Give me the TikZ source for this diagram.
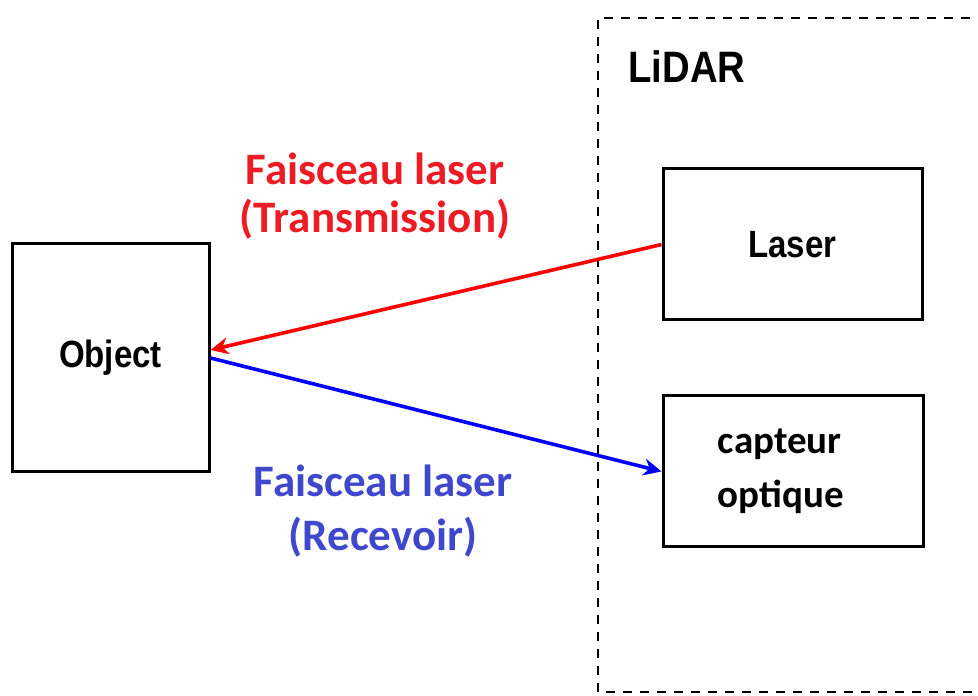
\documentclass[tikz,border=0pt]{standalone}
\usepackage{fontspec}
\setmainfont[FakeStretch=0.87]{Liberation Sans}
\newfontfamily\calibri{Carlito}
\usepackage{tikz}
\usetikzlibrary{arrows.meta,positioning,calc}
\usepackage{xcolor}
\definecolor{txred}{RGB}{237,28,36}
\definecolor{rxblue}{RGB}{63,72,204}

\begin{document}
\begin{tikzpicture}[x=0.5pt, y=0.5pt,
    block/.style={rectangle, draw=black, line width=1.5pt, fill=white},
    arr/.style={-{Stealth[length=9pt, width=8.5pt]}, line width=1.8pt},
    beamlabel/.style={font=\calibri\bfseries\fontsize{22.5}{24}\selectfont, align=center}]

    \useasboundingbox (0,0) rectangle (978,695);

    % LiDAR housing
    \draw[line width=1.3pt, dash pattern=on 4.5pt off 4pt] (598,3) rectangle (995,677);
    \node[font=\bfseries\fontsize{22}{26}\selectfont] (lidar) at (687,628) {LiDAR};

    % Object
    \node[block, minimum width=98.5pt, minimum height=114pt,
          font=\bfseries\fontsize{19}{22}\selectfont] (obj) at (110.5,337) {Object};

    % Laser and sensor
    \node[block, minimum width=129.5pt, minimum height=75.5pt,
          font=\bfseries\fontsize{19}{22}\selectfont] (laser) at (792.5,450.5) {Laser};
    \node[block, minimum width=130pt, minimum height=75.5pt,
          font=\calibri\bfseries\fontsize{19.5}{27}\selectfont, align=left] (capteur) at (793,223.5)
          {\hspace*{-12pt}capteur\\\hspace*{-12pt}optique};

    % Beams
    \draw[arr, red] (laser.west) -- ([yshift=4pt]obj.east);
    \draw[arr, blue] (obj.east) -- (capteur.west);

    % Beam labels
    \node[beamlabel, text=txred] (txlabel) at (375,499) {Faisceau laser\\(Transmission)};
    \node[beamlabel, text=rxblue, font=\calibri\bfseries\fontsize{22.5}{27}\selectfont] (rxlabel) at (383,184)
          {Faisceau laser\\(Recevoir)};
\end{tikzpicture}
\end{document}
